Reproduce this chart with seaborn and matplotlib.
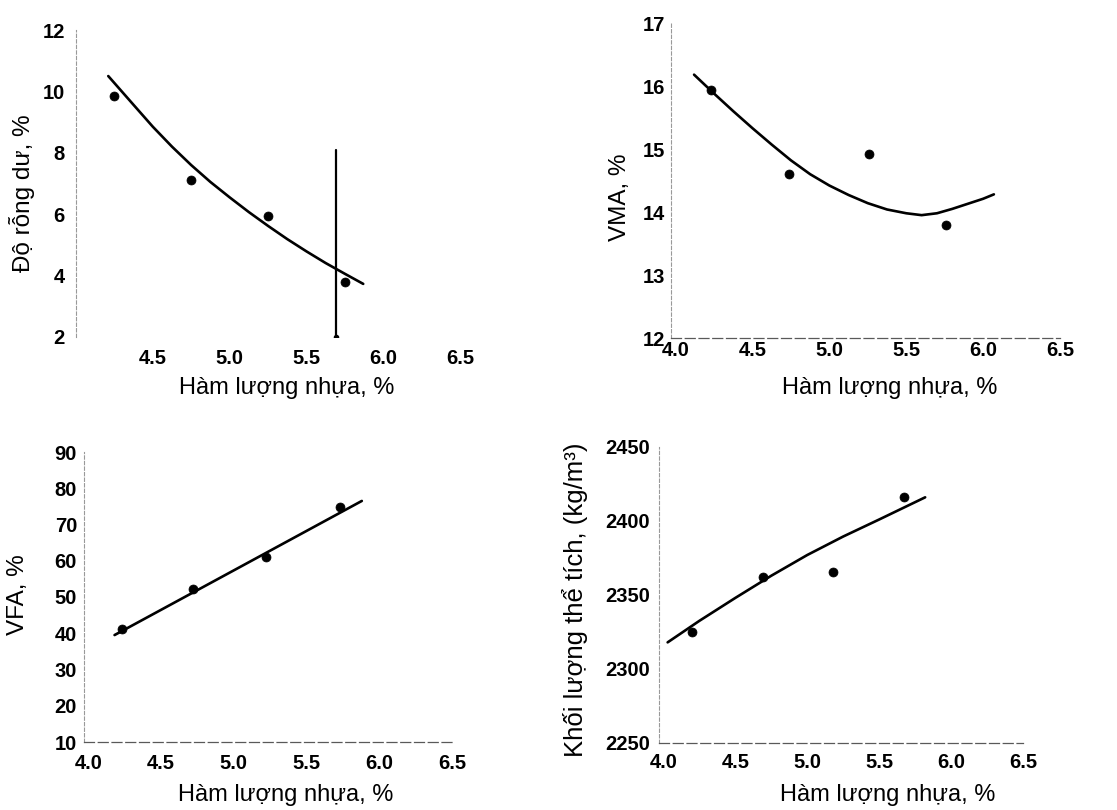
import matplotlib
matplotlib.use("Agg")
import matplotlib.pyplot as plt
import seaborn as sns
from matplotlib.ticker import FormatStrFormatter

# Style
sns.set_theme(style="white")
plt.rcParams["font.family"] = ["Liberation Sans", "DejaVu Sans"]

# Data
xlabel = "Hàm lượng nhựa, %"

# Panel 1 - air voids
p1_x = [4.25, 4.75, 5.25, 5.75]
p1_y = [9.85, 7.1, 5.95, 3.8]
c1_x = [4.21, 4.375, 4.5, 4.625, 4.75, 4.875, 5.0, 5.125, 5.25, 5.375, 5.5, 5.625, 5.75, 5.87]
c1_y = [10.5, 9.56, 8.85, 8.2, 7.6, 7.05, 6.55, 6.07, 5.62, 5.19, 4.79, 4.41, 4.06, 3.73]
opt_x = 5.69
opt_y = [2.0, 8.1]

# Panel 2 - VMA
p2_x = [4.23, 4.74, 5.26, 5.76]
p2_y = [15.93, 14.6, 14.92, 13.8]
c2_x = [4.12, 4.25, 4.375, 4.5, 4.625, 4.75, 4.875, 5.0, 5.125, 5.25, 5.375,
        5.5, 5.6, 5.7, 5.8, 5.9, 6.0, 6.07]
c2_y = [16.18, 15.88, 15.6, 15.33, 15.07, 14.82, 14.6, 14.42, 14.27, 14.14, 14.04,
        13.98, 13.95, 13.98, 14.05, 14.13, 14.21, 14.28]

# Panel 3 - VFA
p3_x = [4.23, 4.72, 5.22, 5.73]
p3_y = [41.2, 52.2, 61.1, 74.8]
c3_x = [4.18, 5.88]
c3_y = [39.5, 76.5]

# Panel 4 - bulk density
p4_x = [4.2, 4.69, 5.18, 5.67]
p4_y = [2325, 2362.5, 2365.5, 2416.5]
c4_x = [4.03, 4.25, 4.5, 4.75, 5.0, 5.25, 5.5, 5.82]
c4_y = [2318, 2332.5, 2348, 2363, 2377, 2389.5, 2401, 2416]

W, H = 1117, 810
fig = plt.figure(figsize=(W / 100, H / 100), dpi=100)


def px_axes(left, top, right, bottom):
    return fig.add_axes([left / W, 1 - bottom / H, (right - left) / W, (bottom - top) / H])


def style_axes(ax, xlim, ylim, xticks, yticks, ylabel, xpad, ypad,
               xlab_pos, ylab_pos, ylab_size=17.5, show_bottom=True):
    ax.set_xlim(*xlim)
    ax.set_ylim(*ylim)
    ax.set_xticks(xticks)
    ax.set_yticks(yticks)
    ax.xaxis.set_major_formatter(FormatStrFormatter("%.1f"))
    for side in ["top", "right"]:
        ax.spines[side].set_visible(False)
    ax.spines["left"].set_color("0.6")
    ax.spines["left"].set_linewidth(0.8)
    ax.spines["left"].set_linestyle((0, (3, 2)))
    if show_bottom:
        ax.spines["bottom"].set_color("0.35")
        ax.spines["bottom"].set_linewidth(0.9)
        ax.spines["bottom"].set_linestyle((0, (8, 3)))
    else:
        ax.spines["bottom"].set_visible(False)
    ax.tick_params(axis="both", which="major", direction="out", length=2,
                   width=0.6, color="0.6", labelsize=14.5, labelcolor="black")
    ax.tick_params(axis="x", pad=xpad)
    ax.tick_params(axis="y", pad=ypad)
    for lab in ax.get_xticklabels() + ax.get_yticklabels():
        lab.set_fontweight("bold")
    ax.set_ylabel(ylabel, fontsize=ylab_size, color="black", va="center", ha="center")
    ax.set_xlabel(xlabel, fontsize=17, color="black", va="center", ha="center")
    ax.xaxis.set_label_coords(xlab_pos[0] / W, 1 - xlab_pos[1] / H, transform=fig.transFigure)
    ax.yaxis.set_label_coords(ylab_pos[0] / W, 1 - ylab_pos[1] / H, transform=fig.transFigure)
    ax.grid(False)


def draw(ax, px, py, cx, cy):
    sns.lineplot(x=cx, y=cy, ax=ax, color="black", linewidth=1.9, sort=False,
                 estimator=None)
    sns.scatterplot(x=px, y=py, ax=ax, color="black", s=42, edgecolor="black",
                    linewidth=0.5, zorder=3)


# Panel 1
ax1 = px_axes(76, 30, 460, 337)
draw(ax1, p1_x, p1_y, c1_x, c1_y)
ax1.plot([opt_x, opt_x], opt_y, color="black", linewidth=1.6)
ax1.plot([opt_x], [opt_y[0]], "o", color="black", markersize=3)
style_axes(ax1, (4.0, 6.5), (2, 12), [4.5, 5.0, 5.5, 6.0, 6.5],
           [2, 4, 6, 8, 10, 12], "Độ rỗng dư, %", 6.5, 6,
           (287, 388), (22, 193), show_bottom=False)

# Panel 2
ax2 = px_axes(671, 23, 1060, 338)
draw(ax2, p2_x, p2_y, c2_x, c2_y)
style_axes(ax2, (3.97, 6.5), (12, 17), [4.0, 4.5, 5.0, 5.5, 6.0, 6.5],
           [12, 13, 14, 15, 16, 17], "VMA, %", 0.5, 2,
           (890, 388), (620, 197))

# Panel 3
ax3 = px_axes(84, 452, 452, 742)
draw(ax3, p3_x, p3_y, c3_x, c3_y)
style_axes(ax3, (3.97, 6.5), (10, 90), [4.0, 4.5, 5.0, 5.5, 6.0, 6.5],
           list(range(10, 91, 10)), "VFA, %", 6.5, 3,
           (286, 795), (18, 595))

# Panel 4
ax4 = px_axes(659, 447, 1023, 743)
draw(ax4, p4_x, p4_y, c4_x, c4_y)
style_axes(ax4, (3.97, 6.5), (2250, 2450), [4.0, 4.5, 5.0, 5.5, 6.0, 6.5],
           [2250, 2300, 2350, 2400, 2450], "Khối lượng thể tích, (kg/m³)", 5.5, 4.5,
           (888, 795), (575, 600), ylab_size=18.5)

fig.savefig("out.png", dpi=100, facecolor="white")
